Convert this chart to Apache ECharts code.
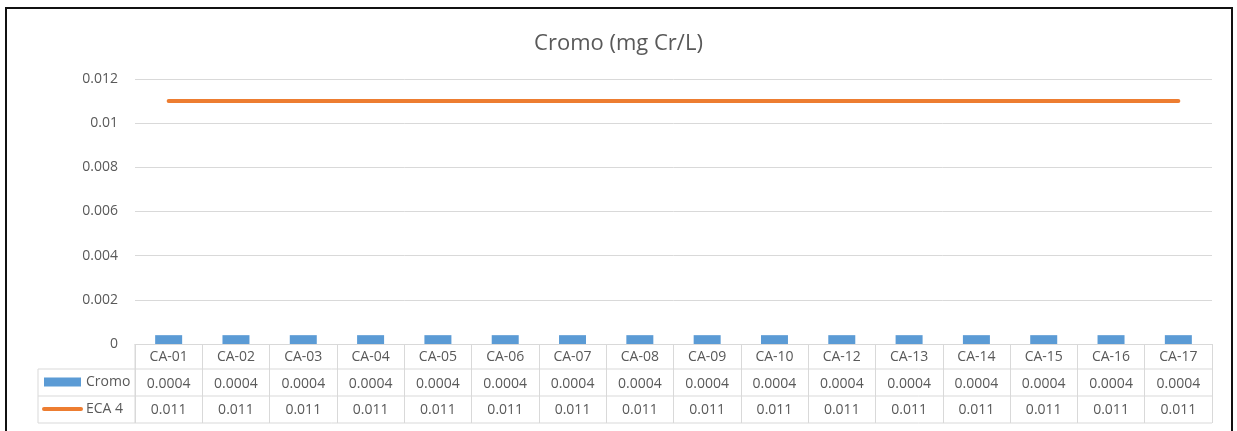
<!DOCTYPE html>
<html>
<head>
<meta charset="utf-8">
<script src="https://cdn.jsdelivr.net/npm/echarts@6/dist/echarts.min.js"></script>
<style>
  html, body { margin: 0; padding: 0; background: #fff; }
  #chart { width: 1237px; height: 431px; }
</style>
</head>
<body>
<div id="chart"></div>
<script>
// Sampling stations and measured chromium vs. the ECA 4 standard
const categories = ['CA-01','CA-02','CA-03','CA-04','CA-05','CA-06','CA-07','CA-08',
                    'CA-09','CA-10','CA-12','CA-13','CA-14','CA-15','CA-16','CA-17'];
const cromo = [0.0004,0.0004,0.0004,0.0004,0.0004,0.0004,0.0004,0.0004,
               0.0004,0.0004,0.0004,0.0004,0.0004,0.0004,0.0004,0.0004];
const eca4 = [0.011,0.011,0.011,0.011,0.011,0.011,0.011,0.011,
              0.011,0.011,0.011,0.011,0.011,0.011,0.011,0.011];
const yTicks = [0, 0.002, 0.004, 0.006, 0.008, 0.01, 0.012];

const TEXT = '#595959';
const GRID = '#d9d9d9';
const FONT = '"Open Sans", "Noto Sans", sans-serif';

const chart = echarts.init(document.getElementById('chart'));

// Data-table layout (pixels)
const G = { left: 135, right: 25, top: 79, bottom: 87 };
const W = 1237, H = 431;
const plotRight = W - G.right;
const axisY = H - G.bottom;
const rowLines = [369, 396, 423];
const tableLeft = 38;

const tableGraphics = rowLines.map(y => ({
  type: 'line', silent: true,
  shape: { x1: tableLeft, y1: y, x2: plotRight, y2: y },
  style: { stroke: GRID, lineWidth: 1 }
}));
tableGraphics.push({
  type: 'line', silent: true,
  shape: { x1: tableLeft, y1: rowLines[0], x2: tableLeft, y2: rowLines[2] },
  style: { stroke: GRID, lineWidth: 1 }
});
tableGraphics.push({
  type: 'line', silent: true,
  shape: { x1: G.left, y1: axisY, x2: G.left, y2: rowLines[2] },
  style: { stroke: GRID, lineWidth: 1 }
});
// chart frame
tableGraphics.push({
  type: 'rect', silent: true,
  shape: { x: 6, y: 8, width: 1226, height: 440 },
  style: { fill: 'none', stroke: '#111', lineWidth: 2 }
});

chart.setOption({
  backgroundColor: '#fff',
  animation: false,
  textStyle: { fontFamily: FONT },
  title: {
    text: 'Cromo (mg Cr/L)',
    left: 'center',
    top: 28,
    textStyle: { fontFamily: FONT, fontSize: 22, fontWeight: 'normal', color: TEXT }
  },
  legend: {
    orient: 'vertical',
    left: 42,
    top: 373,
    padding: 0,
    itemWidth: 37,
    itemHeight: 9,
    itemGap: 9,
    textStyle: { fontFamily: FONT, fontSize: 14, color: TEXT, lineHeight: 18 },
    data: [
      { name: 'Cromo', icon: 'rect' },
      {
        name: 'ECA 4',
        lineStyle: { width: 4, color: '#ED7D31', cap: 'round' },
        itemStyle: { opacity: 0 }
      }
    ]
  },
  grid: { left: G.left, right: G.right, top: G.top, bottom: G.bottom },
  xAxis: {
    type: 'category',
    data: categories,
    boundaryGap: true,
    axisLine: { show: true, lineStyle: { color: GRID } },
    axisTick: { show: true, interval: 0, length: rowLines[2] - axisY, lineStyle: { color: GRID } },
    axisLabel: {
      interval: 0,
      margin: 0,
      color: TEXT,
      fontFamily: FONT,
      fontSize: 14,
      lineHeight: 26.5,
      formatter: (v, i) => v + '\n' + cromo[i] + '\n' + eca4[i]
    }
  },
  yAxis: {
    type: 'value',
    min: yTicks[0],
    max: yTicks[yTicks.length - 1],
    interval: yTicks[1] - yTicks[0],
    axisLine: { show: false },
    axisTick: { show: false },
    axisLabel: { color: TEXT, fontFamily: FONT, fontSize: 14, margin: 17 },
    splitLine: { lineStyle: { color: GRID } }
  },
  series: [
    {
      name: 'Cromo',
      type: 'bar',
      data: cromo,
      barWidth: 27,
      itemStyle: { color: '#5B9BD5' }
    },
    {
      name: 'ECA 4',
      type: 'line',
      data: eca4,
      symbol: 'none',
      lineStyle: { color: '#ED7D31', width: 4, cap: 'round' },
      itemStyle: { color: '#ED7D31' }
    }
  ],
  graphic: tableGraphics
});
</script>
</body>
</html>
